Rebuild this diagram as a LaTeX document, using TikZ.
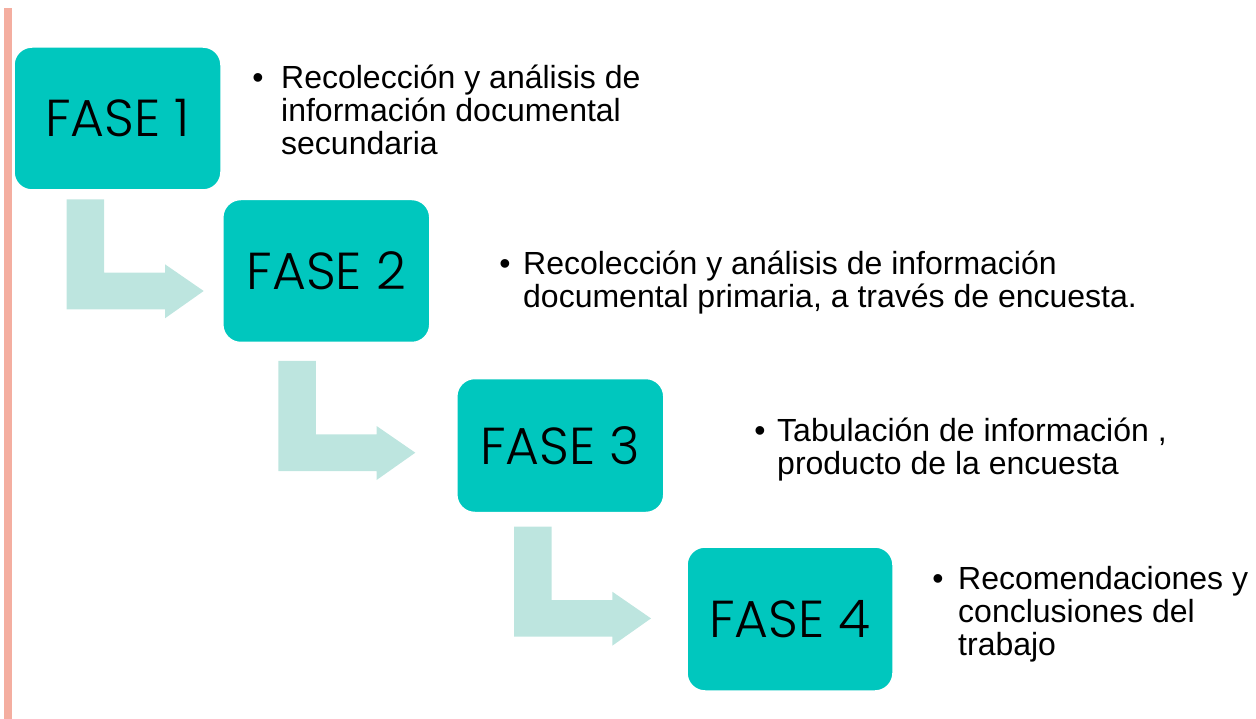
\documentclass[tikz,border=0pt]{standalone}
\usepackage{fontspec}
\setmainfont{Liberation Sans}
\newfontfamily\fasefont{Poppins}[UprightFont=* Light]
\definecolor{boxteal}{RGB}{0,199,190}
\definecolor{arrowteal}{RGB}{189,229,223}
\definecolor{barsalmon}{RGB}{244,174,160}
\begin{document}
\begin{tikzpicture}[x=1pt,y=-1pt,
  fasebox/.style={fill=boxteal, draw=white, line width=1.5pt, rounded corners=18pt,
    inner sep=0pt, text=black, font=\fasefont\fontsize{52}{60}\selectfont},
  bul/.style={anchor=base, inner sep=0pt, font=\fontsize{32}{33}\selectfont},
  desc/.style={anchor=base west, inner sep=0pt, align=left, font=\fontsize{32}{33}\selectfont},
  larrow/.pic={\fill[arrowteal] (0,0) -- (37.5,0) -- (37.5,73.4) -- (98.3,73.4) -- (98.3,65)
     -- (137,91.7) -- (98.3,119) -- (98.3,110) -- (0,110) -- cycle;}
]
\useasboundingbox (0,0) rectangle (1256,719);
\fill[barsalmon] (4,8) rectangle (12,719);

% L-shaped arrows
\coordinate (a1) at (66.7,199.3);
\coordinate (a2) at (278.3,361);
\coordinate (a3) at (514,526.7);
\pic at (a1) {larrow};
\pic at (a2) {larrow};
\pic at (a3) {larrow};

% boxes
\node[fasebox, minimum width=207pt, minimum height=143pt] (f1) at (117.5,118.5) {FASE 1};
\node[fasebox, minimum width=207pt, minimum height=143pt] (f2) at (326.3,271) {FASE 2};
\node[fasebox, minimum width=207pt, minimum height=134pt] (f3) at (560.3,445.5) {FASE 3};
\node[fasebox, minimum width=206pt, minimum height=144pt] (f4) at (790,619) {FASE 4};

% descriptions (anchored at the baseline of the last line)
\node[bul] (b1) at (258,88.3) {•};
\node[desc] (t1) at (281,154.3) {Recolección y análisis de\\información documental\\secundaria};
\node[bul] (b2) at (505,274.7) {•};
\node[desc] (t2) at (523,307.7) {Recolección y análisis de información\\documental primaria, a través de encuesta.};
\node[bul] (b3) at (760,441.3) {•};
\node[desc] (t3) at (777,474.3) {Tabulación de información ,\\producto de la encuesta};
\node[bul] (b4) at (938,589.7) {•};
\node[desc] (t4) at (958,655.7) {Recomendaciones y\\conclusiones del\\trabajo};
\end{tikzpicture}
\end{document}
